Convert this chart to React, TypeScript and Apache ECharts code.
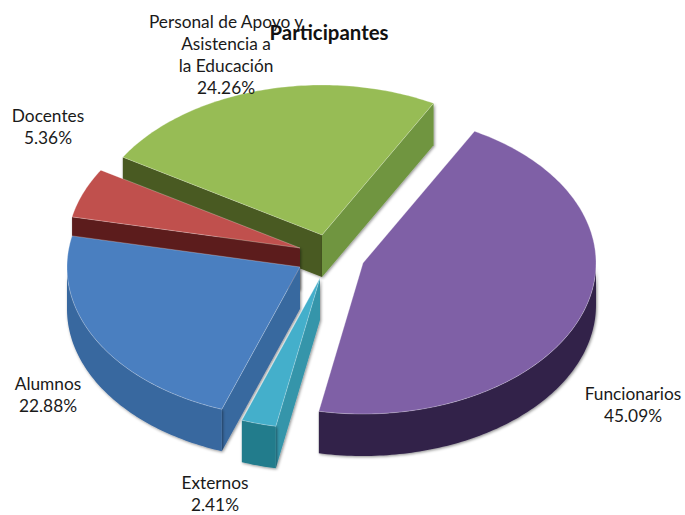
import React, { useEffect, useRef } from "react";
import * as echarts from "echarts";

const categories = ["Funcionarios", "Externos", "Alumnos", "Docentes", "Personal de Apoyo y\nAsistencia a\nla Educación"];
const values = [45.09, 2.41, 22.88, 5.36, 24.26];
const titleText = "Participantes";

const START_ANGLE = 28.6;
const RX = 233;
const RY_FRONT = 151;
const RY_BACK = 150;
const DEPTH = 42;

const centers = [[363, 263], [320, 278], [300, 267], [300, 248], [322, 235]];
const paintOrder = [3, 5, 4, 2, 1];
const topColors = ["#7f60a6", "#44afcb", "#4a7fc0", "#c0504d", "#97bc55"];
const rimColors = ["#33244a", "#237b8c", "#39679f", "#5c1b1b", "#4a5a20"];
const cutColors = ["#33244a", "#3495aa", "#39699f", "#5c1b1b", "#6f9540"];
const labelPos = [[633, 404], [215, 493], [48, 394], [48, 126], [226, 54]];

function pt(c: number[], deg: number, dy = 0) {
  const a = (deg * Math.PI) / 180;
  const cos = Math.cos(a);
  return [c[0] + RX * Math.sin(a), c[1] - (cos > 0 ? RY_BACK : RY_FRONT) * cos + dy];
}
function arc(c: number[], a0: number, a1: number, dy = 0) {
  const out: number[][] = [];
  const n = Math.max(2, Math.ceil(Math.abs(a1 - a0)));
  for (let i = 0; i <= n; i++) out.push(pt(c, a0 + ((a1 - a0) * i) / n, dy));
  return out;
}

export default function App() {
  const ref = useRef<HTMLDivElement>(null);
  useEffect(() => {
    document.body.style.margin = "0";
    const chart = echarts.init(ref.current!, undefined, { renderer: "svg" });
    const total = values.reduce((a, b) => a + b, 0);
    const font = "Lato, 'Noto Sans', sans-serif";
    chart.setOption({
      animation: false,
      title: {
        text: titleText,
        left: 324,
        top: 17,
        textAlign: "center",
        textStyle: { fontFamily: font, fontSize: 20.4, fontWeight: "bold", color: "#111" },
        z: 20,
      },
      series: [
        {
          type: "custom",
          coordinateSystem: "none",
          silent: true,
          data: values.map((v, i) => ({ name: categories[i], value: [v, i] })),
          renderItem: (_: any, api: any) => {
            const i = api.value(1);
            const v = api.value(0);
            let a0 = START_ANGLE;
            for (let k = 0; k < i; k++) a0 += (values[k] / total) * 360;
            const a1 = a0 + (v / total) * 360;
            const c = centers[i];
            const base = paintOrder[i] * 10;
            const shadow = { shadowBlur: 3, shadowColor: "rgba(0,0,0,0.45)", shadowOffsetX: 1, shadowOffsetY: 1 };
            const children: any[] = [];
            const poly = (points: number[][], style: any, z: number) =>
              children.push({ type: "polygon", shape: { points }, style, z2: base + z });
            // cut faces that turn towards the viewer
            const face = (a: number, fill: string) => {
              const p = pt(c, a);
              poly([c, p, [p[0], p[1] + DEPTH], [c[0], c[1] + DEPTH]], { fill, ...shadow }, 0);
            };
            if (Math.sin((a0 * Math.PI) / 180) < 0) face(a0, i === 4 ? rimColors[i] : cutColors[i]);
            if (Math.sin((a1 * Math.PI) / 180) > 0) face(a1, cutColors[i]);
            // outer rim, front half only
            const lo = Math.max(a0, 90);
            const hi = Math.min(a1, 270);
            if (hi > lo) {
              poly([...arc(c, lo, hi), ...arc(c, hi, lo, DEPTH)], { fill: rimColors[i], ...shadow }, 1);
            }
            // top face
            poly(
              [c, ...arc(c, a0, a1)],
              { fill: topColors[i], stroke: "rgba(255,255,255,0.35)", lineWidth: 0.8, lineJoin: "round" },
              2
            );
            children.push({
              type: "text",
              z2: 100,
              style: {
                x: labelPos[i][0],
                y: labelPos[i][1],
                text: `${categories[i]}\n${v.toFixed(2)}%`,
                fill: "#1a1a1a",
                font: `17.3px ${font}`,
                lineHeight: 22,
                textAlign: "center",
                textVerticalAlign: "middle",
              },
            });
            return { type: "group", children };
          },
        },
      ],
    });
    return () => chart.dispose();
  }, []);
  return <div ref={ref} style={{ width: 685, height: 515 }} />;
}
